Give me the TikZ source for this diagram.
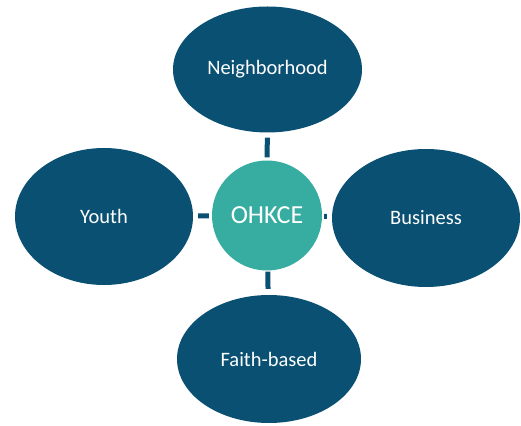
\documentclass[tikz,border=0pt]{standalone}
\usepackage{fontspec}
\setmainfont{Carlito}
\usetikzlibrary{shapes.geometric}
\definecolor{darkblue}{HTML}{0A5072}
\definecolor{tealc}{HTML}{37ADA2}
\tikzset{
  outer/.style={ellipse, fill=darkblue, draw=none, inner sep=0pt, text=white, font=\fontsize{20.5}{24}\selectfont},
  hub/.style={circle, fill=tealc, draw=none, inner sep=0pt, minimum size=110pt, text=white, font=\fontsize{26}{30}\selectfont},
  link/.style={draw=darkblue, line width=5pt}
}
\begin{document}
\begin{tikzpicture}[x=1pt,y=1pt]
\useasboundingbox (0,0) rectangle (521,425);
\node[hub] (c) at (267,209.5) {OHKCE};
\node[outer, minimum width=189pt, minimum height=126pt] (n) at (267.5,355.5) {Neighborhood};
\node[outer, minimum width=178pt, minimum height=137pt] (y) at (104,208.5) {Youth};
\node[outer, minimum width=188pt, minimum height=138pt] (b) at (426,207) {Business};
\node[outer, minimum width=184pt, minimum height=128pt] (f) at (269,66) {Faith-based};
\draw[link, shorten <=3pt, shorten >=5pt] (c) -- (n);
\draw[link, shorten <=3pt, shorten >=5pt] (c) -- (y);
\draw[link, shorten <=2pt, shorten >=5pt] (c) -- (b);
\draw[link, shorten <=1pt, shorten >=6pt] (c) -- (f);
\end{tikzpicture}
\end{document}
